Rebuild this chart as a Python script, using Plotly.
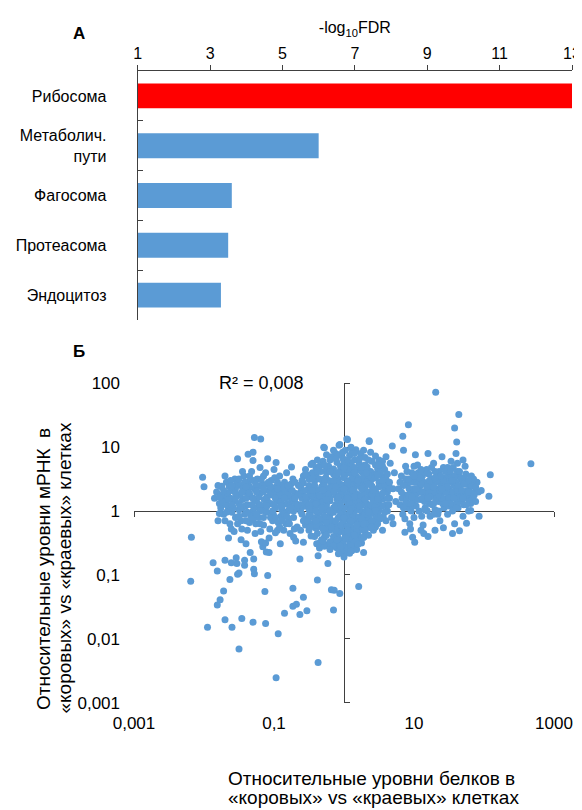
import plotly.graph_objects as go

# browser window 582x810; the page body has an 8px margin, so the figure is
# sized to end exactly at the window edges
PAGE_OFF = 8
W, H = 582 - PAGE_OFF, 810 - PAGE_OFF

# ---------------- Panel A data ----------------
pathways = ["Рибосома", "Метаболич.<br>пути", "Фагосома", "Протеасома", "Эндоцитоз"]
neg_log10_fdr = [13.0, 6.0, 3.6, 3.5, 3.3]
bar_colors = ["#FF0000", "#5B9BD5", "#5B9BD5", "#5B9BD5", "#5B9BD5"]
fdr_ticks = [1, 3, 5, 7, 9, 11, 13]

# ---------------- Panel B data (log10 of ratios: protein, mRNA) ----------------
center_cluster = [
    (0.05,1.12),(-0.07,1.03),(-0.28,0.99),(0.36,1.09),(0.17,0.96),(0.12,0.93),(0.02,0.95),(-0.12,0.9),(0.24,0.9),
    (0.08,0.87),(-0.18,0.85),(0.3,0.84),(-0.02,0.83),(0.15,0.8),(-0.3,0.78),(0.4,0.78),(0.22,0.74),(-0.1,0.76),
    (0.05,0.72),(-0.22,0.7),(0.33,0.69),(-0.4,0.68),(0.48,0.66),(0.12,0.66),(-0.05,0.64),(-0.33,0.62),(0.26,0.61),
    (0.42,0.58),(-0.15,0.58),(0.02,0.57),(-0.5,0.56),(0.55,0.54),(0.18,0.54),(-0.26,0.52),(0.35,0.5),(-0.08,0.5),
    (0.08,0.48),(-0.42,0.47),(0.5,0.45),(-0.58,0.44),(0.25,0.44),(-0.18,0.43),(0.02,0.41),(0.4,0.39),(-0.32,0.38),
    (0.15,0.37),(-0.5,0.36),(-0.08,0.35),(0.58,0.35),(0.3,0.33),(-0.25,0.31),(0.08,0.3),(-0.6,0.29),(0.46,0.28),
    (-0.4,0.27),(0.2,0.26),(-0.12,0.25),(0.0,0.22),(0.36,0.22),(-0.52,0.21),(-0.3,0.2),(0.55,0.19),(0.12,0.18),
    (-0.2,0.16),(0.26,0.15),(-0.45,0.14),(-0.05,0.13),(0.44,0.12),(0.6,0.1),(-0.35,0.09),(0.06,0.08),(-0.58,0.07),
    (0.18,0.06),(-0.15,0.05),(0.33,0.04),(0.5,0.02),(-0.28,0.01),(-0.02,0.0),(-0.48,-0.02),(0.1,-0.03),(0.4,-0.04),
    (-0.2,-0.05),(0.25,-0.07),(-0.38,-0.08),(0.56,-0.09),(-0.08,-0.1),(0.05,-0.12),(-0.55,-0.12),(0.32,-0.13),
    (-0.28,-0.15),(0.15,-0.16),(0.45,-0.18),(-0.15,-0.19),(-0.45,-0.2),(0.0,-0.21),(0.25,-0.23),(-0.32,-0.25),
    (0.38,-0.26),(-0.05,-0.27),(0.1,-0.29),(-0.2,-0.3),(-0.5,-0.3),(0.3,-0.32),(-0.38,-0.35),(0.2,-0.36),(-0.1,-0.37),
    (0.02,-0.39),(-0.28,-0.41),(0.14,-0.43),(-0.15,-0.45),(0.28,-0.41),(-0.05,-0.48),(0.08,-0.5),(-0.22,-0.52),
    (0.0,-0.55),(0.15,-0.56),(-0.1,-0.58),(0.0,-0.63),(0.11,-0.62),(0.28,-0.65),(-0.35,-0.58),(0.0,-0.68),
    (0.1,0.75),(-0.05,0.7),(0.3,0.72),(-0.15,0.66),(0.2,0.64),(0.38,0.62),(-0.25,0.6),(0.08,0.6),(-0.4,0.55),
    (0.28,0.55),(0.45,0.52),(-0.12,0.54),(0.0,0.52),(-0.3,0.46),(0.15,0.46),(0.32,0.46),(-0.5,0.4),(-0.05,0.42),
    (0.22,0.4),(0.5,0.38),(-0.2,0.36),(0.05,0.36),(-0.38,0.33),(0.35,0.3),(-0.02,0.3),(0.15,0.3),(-0.3,0.26),
    (0.28,0.27),(0.45,0.24),(-0.45,0.24),(0.08,0.22),(-0.2,0.21),(0.2,0.2),(-0.1,0.19),(0.42,0.17),(-0.38,0.18),
    (0.03,0.16),(0.32,0.12),(-0.25,0.11),(0.12,0.12),(-0.55,0.14),(-0.12,0.1),(0.25,0.09),(0.52,0.07),(-0.42,0.05),
    (0.0,0.05),(0.38,0.03),(-0.08,0.02),(0.15,0.0),(-0.35,-0.02),(0.28,-0.01),(-0.15,-0.02),(0.48,-0.04),(0.05,-0.06),
    (-0.28,-0.08),(0.18,-0.09),(-0.45,-0.1),(0.35,-0.1),(-0.02,-0.15),(0.22,-0.17),(-0.35,-0.18),(0.08,-0.2),
    (-0.22,-0.22),(0.35,-0.2),(-0.1,-0.24),(0.15,-0.26),(-0.4,-0.27),(0.0,-0.33),(0.22,-0.3),(-0.28,-0.33),
    (-0.15,-0.4),(0.08,-0.42),(0.0,-0.45),(-0.08,-0.33),(0.12,-0.35),(0.25,-0.5),(0.0,-0.72),(0.02,-0.6),(-0.02,-0.52),
    (0.6,0.5),(0.65,0.2),(0.7,0.35),(0.62,0.0),(0.68,-0.1),(0.72,0.6),(0.66,0.75),(0.6,0.85),(0.74,0.15),(0.64,0.4),
    (0.7,-0.2),(0.55,0.7),(0.5,0.8),(-0.62,0.3),(-0.6,-0.05),(-0.58,0.55),(-0.55,0.15),(-0.52,-0.2),(-0.55,0.65),
    (-0.62,-0.3),
    (-0.45,0.6),(-0.35,0.5),(-0.22,0.48),(-0.1,0.46),(0.12,0.52),(0.25,0.5),(0.4,0.5),(0.52,0.6),(0.58,0.42),(0.45,0.34),
    (0.38,0.42),(0.3,0.38),(0.1,0.4),(-0.12,0.38),(-0.28,0.4),(-0.42,0.4),(-0.55,0.32),(-0.48,0.28),(-0.35,0.24),
    (-0.22,0.27),(-0.05,0.26),(0.05,0.26),(0.24,0.22),(0.4,0.26),(0.52,0.24),(0.5,0.13),(0.38,0.1),(0.2,0.14),(0.08,0.12),
    (-0.08,0.17),(-0.3,0.15),(-0.5,0.1),(-0.4,0.0),(-0.25,0.06),(-0.12,0.06),(0.1,0.04),(0.22,0.02),(0.44,0.06),
    (0.58,-0.02),(0.45,-0.12),(0.3,-0.05),(0.12,-0.1),(-0.05,-0.05),(-0.2,-0.12),(-0.35,-0.12),(-0.5,-0.06),(-0.55,-0.22),
    (-0.4,-0.22),(-0.25,-0.25),(-0.12,-0.3),(0.05,-0.25),(0.18,-0.22),(0.3,-0.28),(0.42,-0.3),(0.2,-0.45),(-0.32,-0.45),
    (-0.2,-0.48),(-0.08,-0.42),(0.05,-0.36),(0.14,-0.5),(-0.12,-0.52),(0.05,-0.58),(-0.05,-0.62),(0.18,-0.6),(-0.02,0.6),
    (0.15,0.68),(-0.2,0.8),(0.0,0.78),(0.22,0.82),(-0.08,0.88),(0.32,0.65),(-0.35,0.7),(0.45,0.72),(0.28,0.95),(-0.15,0.95),
    (0.1,1.0),(0.45,0.86),(0.55,0.78),(-0.45,0.75),(-0.5,0.5),(-0.6,0.2),(-0.62,0.0),(-0.58,-0.15),(0.62,0.3),(0.64,0.1),
    (0.6,-0.15),(0.55,-0.3),(0.48,-0.2),(0.35,0.56),(0.05,0.65),(-0.25,0.66),(0.58,0.65),
    (-0.25,0.88),(0.38,0.92),(0.15,0.9),(-0.02,0.92),
    (-0.38,0.8),(-0.12,0.82),(0.05,0.8),(0.35,0.8),(0.5,0.72),(0.25,0.68),(-0.28,0.72),(0.0,0.68),
    (-0.55,0.58),(-0.38,0.62),(-0.2,0.62),(-0.08,0.6),(0.15,0.6),(0.32,0.6),(0.48,0.56),(0.62,0.58),
    (-0.6,0.48),(-0.45,0.5),(-0.28,0.5),(-0.15,0.48),(0.05,0.45),(0.2,0.48),(0.35,0.42),(0.55,0.48),(0.65,0.45),
    (-0.62,0.38),(-0.45,0.32),(-0.3,0.33),(-0.15,0.3),(0.0,0.35),(0.12,0.33),(0.25,0.35),(0.42,0.32),(0.55,0.28),(0.65,0.35),
    (-0.55,0.22),(-0.4,0.12),(-0.25,0.18),(-0.08,0.22),(0.05,0.2),(0.15,0.22),(0.3,0.18),(0.48,0.18),(0.62,0.2),
    (-0.62,0.1),(-0.5,0.03),(-0.32,0.05),(-0.2,0.0),(-0.05,0.08),(0.08,0.0),(0.22,0.08),(0.35,-0.02),(0.45,0.0),(0.55,0.08),
    (-0.52,-0.15),(-0.4,-0.15),(-0.25,-0.18),(-0.12,-0.15),(0.0,-0.1),(0.1,-0.15),(0.25,-0.12),(0.4,-0.15),(0.52,-0.12),
    (-0.48,-0.25),(-0.3,-0.28),(-0.18,-0.25),(-0.05,-0.22),(0.05,-0.3),(0.18,-0.32),(0.28,-0.2),(0.45,-0.25),
    (-0.42,-0.4),(-0.25,-0.38),(-0.1,-0.45),(0.02,-0.42),(0.15,-0.38),(0.25,-0.42),(0.35,-0.38),(-0.35,-0.5),
    (-0.28,-0.55),(-0.15,-0.55),(-0.05,-0.55),(0.1,-0.55),(0.2,-0.52),(-0.2,-0.6),(0.08,-0.66),(-0.08,-0.67),
]

left_cluster = [
    (-1.82,0.3),(-1.78,0.12),(-1.75,0.38),(-1.72,-0.05),(-1.7,0.22),(-1.68,0.45),(-1.65,0.05),(-1.63,-0.2),(-1.6,0.32),
    (-1.58,0.15),(-1.56,0.5),(-1.55,-0.1),(-1.52,0.25),(-1.5,0.02),(-1.48,0.4),(-1.46,-0.28),(-1.45,0.18),(-1.43,0.55),
    (-1.42,-0.05),(-1.4,0.3),(-1.38,0.1),(-1.37,0.45),(-1.35,-0.18),(-1.33,0.22),(-1.32,0.62),(-1.3,0.0),(-1.28,0.35),
    (-1.27,-0.35),(-1.25,0.15),(-1.24,0.5),(-1.22,-0.1),(-1.2,0.28),(-1.18,0.05),(-1.17,0.42),(-1.15,-0.22),(-1.14,0.18),
    (-1.12,0.6),(-1.1,-0.02),(-1.08,0.32),(-1.07,-0.42),(-1.05,0.12),(-1.04,0.48),(-1.02,-0.15),(-1.0,0.25),(-0.98,0.05),
    (-0.97,0.38),(-0.95,-0.3),(-0.93,0.18),(-0.92,0.55),(-0.9,-0.08),(-0.88,0.3),(-0.87,0.1),(-0.85,0.45),(-0.83,-0.2),
    (-0.82,0.22),(-0.8,0.0),(-0.78,0.35),(-0.77,-0.35),(-0.75,0.15),(-0.73,0.5),(-0.72,-0.1),(-0.7,0.28),(-0.68,0.05),
    (-0.67,-0.25),(-0.65,0.4),
    (-1.85,0.2),(-1.8,-0.15),(-1.76,0.05),(-1.7,0.55),(-1.66,0.28),(-1.6,-0.02),(-1.57,-0.32),(-1.53,0.42),(-1.5,0.12),
    (-1.47,-0.15),(-1.44,0.35),(-1.41,0.08),(-1.38,-0.3),(-1.36,0.28),(-1.33,-0.08),(-1.3,0.48),(-1.28,0.18),(-1.26,-0.2),
    (-1.23,0.38),(-1.21,0.08),(-1.19,-0.32),(-1.16,0.3),(-1.13,0.0),(-1.11,0.42),(-1.09,0.15),(-1.06,-0.28),(-1.03,0.35),
    (-1.01,-0.05),(-0.99,0.52),(-0.96,0.15),(-0.94,-0.18),(-0.91,0.4),(-0.89,0.02),(-0.86,-0.3),(-0.84,0.28),(-0.81,0.12),
    (-0.79,-0.12),(-0.76,0.42),(-0.74,0.22),(-0.71,-0.28),(-0.69,0.12),(-0.66,0.25),
    (-1.78,-0.04),(-1.73,0.14),(-1.75,0.39),(-1.62,0.48),
    (-1.65,-0.42),(-1.61,-0.28),(-1.47,-0.45),(-1.40,-0.51),(-1.16,-0.56),(-1.11,-0.64),(-1.07,-0.65),(-1.18,-0.48),
    (-1.12,-0.5),(-0.98,-0.34),(-0.91,-0.51),(-0.72,-0.41),(-0.69,-0.47),(-0.58,-0.49),(-0.47,-0.39),(-0.39,-0.51),
    (-0.3,-0.47),
    (-1.75,0.25),(-1.68,0.1),(-1.62,0.2),(-1.55,0.35),(-1.48,0.25),(-1.42,0.45),(-1.35,0.38),(-1.28,0.05),(-1.22,0.22),
    (-1.15,0.55),(-1.1,0.22),(-1.05,0.38),(-0.98,0.3),(-0.92,0.25),(-0.86,0.36),(-0.8,0.25),(-0.74,0.32),(-0.7,0.45),
    (-0.72,0.0),(-0.78,0.08),(-0.85,-0.05),(-0.92,-0.25),(-1.0,0.1),(-1.05,-0.1),(-1.12,0.1),(-1.2,-0.2),(-1.25,0.3),
    (-1.32,0.1),(-1.4,0.2),(-1.45,0.05),(-1.52,-0.2),(-1.58,0.05),(-1.64,0.38),(-1.7,-0.15),(-1.45,0.62),(-1.2,0.68),
    (-1.0,0.65),(-0.82,0.6),(-1.35,0.55),(-0.95,0.45),(-1.18,0.5),
    (-1.8,0.4),(-1.78,0.22),(-1.72,0.32),(-1.65,0.18),(-1.6,0.4),(-1.55,0.2),(-1.5,0.5),(-1.46,0.3),(-1.4,0.38),
    (-1.35,0.28),(-1.3,0.2),(-1.26,0.42),(-1.2,0.1),(-1.15,0.35),(-1.08,0.45),(-1.05,0.25),(-0.98,0.2),(-0.95,0.35),
    (-0.9,0.15),(-0.85,0.2),(-0.8,0.4),(-0.76,0.05),(-0.7,0.2),(-0.66,0.1),(-1.6,0.1),(-1.5,-0.08),(-1.4,-0.15),
    (-1.3,-0.12),(-1.2,0.0),(-1.1,0.08),(-0.98,-0.1),(-0.88,-0.15),(-0.78,-0.2),(-1.68,-0.02),(-1.25,-0.05),(-1.15,-0.1),
    (-1.02,0.0),(-0.9,0.08),(-0.82,-0.08),(-1.38,-0.02),(-1.48,0.08),(-1.55,0.28),
]

right_cluster = [
    (0.78,0.35),(0.8,0.1),(0.82,0.55),(0.84,-0.05),(0.86,0.25),(0.88,0.7),(0.9,0.42),(0.92,0.05),(0.94,-0.2),(0.95,0.3),
    (0.97,0.6),(0.99,0.15),(1.0,-0.1),(1.02,0.45),(1.04,0.28),(1.05,0.72),(1.07,0.0),(1.08,0.38),(1.1,0.18),(1.12,0.55),
    (1.13,-0.22),(1.15,0.3),(1.16,0.05),(1.18,0.65),(1.2,0.42),(1.22,0.12),(1.23,-0.08),(1.25,0.5),(1.27,0.25),(1.28,0.75),
    (1.3,0.02),(1.32,0.35),(1.33,0.58),(1.35,0.15),(1.37,-0.15),(1.38,0.45),(1.4,0.28),(1.42,0.68),(1.43,0.05),(1.45,0.38),
    (1.47,0.2),(1.48,-0.05),(1.5,0.55),(1.52,0.3),(1.53,0.78),(1.55,0.1),(1.57,0.42),(1.58,-0.2),(1.6,0.25),(1.62,0.62),
    (1.63,0.05),(1.65,0.35),(1.67,0.5),(1.68,0.15),(1.7,-0.08),(1.72,0.3),(1.73,0.7),(1.75,0.45),(1.77,0.2),(1.78,0.0),
    (1.8,0.38),(1.82,0.55),(1.83,0.25),(1.85,0.4),(1.87,0.3),(1.9,0.45),
    (0.8,0.45),(0.83,0.2),(0.87,-0.12),(0.9,0.62),(0.93,0.35),(0.96,0.0),(0.98,0.5),(1.01,0.25),(1.03,0.08),(1.06,0.6),
    (1.09,0.3),(1.11,-0.08),(1.14,0.45),(1.17,0.22),(1.19,0.0),(1.21,0.58),(1.24,0.35),(1.26,0.1),(1.29,0.48),(1.31,0.2),
    (1.34,-0.05),(1.36,0.62),(1.39,0.38),(1.41,0.12),(1.44,0.52),(1.46,0.3),(1.49,0.08),(1.51,0.45),(1.54,0.22),(1.56,0.68),
    (1.59,0.38),(1.61,0.12),(1.64,0.55),(1.66,0.25),(1.69,0.42),(1.71,0.1),(1.74,0.58),(1.76,0.32),(1.79,0.15),(1.81,0.48),
    (1.84,0.2),
    (0.87,-0.33),(1.01,-0.49),(1.14,-0.35),(0.98,-0.41),(1.42,-0.26),(1.65,-0.31),(1.75,-0.19),(1.81,0.12),(1.83,0.18),
    (1.81,0.01),(1.93,-0.08),(1.96,0.32),(2.07,0.23),(2.09,0.57),(0.85,0.95),(1.02,0.88),(1.2,0.9),(1.4,0.85),(1.6,0.9),
    (1.7,0.8),(1.3,-0.3),(1.55,-0.35),(1.2,-0.4),(0.95,-0.28),(1.1,-0.3),
    (0.85,0.4),(0.9,0.2),(0.95,0.45),(1.0,0.35),(1.05,0.18),(1.1,0.42),(1.15,0.15),(1.2,0.3),(1.25,0.4),(1.3,0.3),
    (1.35,0.45),(1.4,0.2),(1.45,0.45),(1.5,0.35),(1.55,0.3),(1.6,0.45),(1.65,0.2),(1.7,0.3),(1.75,0.25),(1.8,0.3),
    (1.85,0.5),(1.88,0.15),(1.15,0.6),(1.3,0.62),(1.45,0.62),(1.62,0.75),(1.35,0.25),(1.22,0.48),(1.5,0.2),(1.58,0.55),
    (1.05,0.5),(0.92,0.25),(1.72,0.52),(1.42,0.38),(1.28,0.12),(1.12,0.3),(0.98,0.08),(1.62,0.32),(1.48,0.68),(1.35,0.0),
    (1.55,0.0),(1.75,0.1),(1.0,0.7),(1.25,0.68),(0.88,0.5),(1.92,0.3),
    (0.82,0.3),(0.88,0.12),(0.92,0.5),(0.97,0.22),(1.03,0.35),(1.08,0.52),(1.12,0.2),(1.18,0.38),(1.23,0.22),(1.28,0.38),
    (1.33,0.48),(1.37,0.32),(1.42,0.48),(1.47,0.38),(1.52,0.12),(1.57,0.2),(1.63,0.4),(1.68,0.32),(1.72,0.42),(1.78,0.3),
    (1.82,0.4),(1.86,0.25),(1.15,0.02),(1.28,-0.05),(1.45,0.12),(1.6,0.05),(1.7,0.2),(1.38,0.55),(1.52,0.62),(1.1,0.65),
    (0.95,0.12),(1.2,0.2),(1.4,0.35),(1.55,0.48),(1.65,0.62),(1.3,0.52),(1.0,0.55),(0.85,0.05),(1.78,0.48),(1.88,0.38),
]

sparse_points = [
    (1.31,1.86),(1.64,1.51),(1.58,1.30),(1.61,1.08),(0.92,1.35),(0.84,1.17),(0.69,1.02),(0.36,1.10),(0.04,1.13),
    (-0.06,1.04),(-0.29,1.00),(2.67,0.74),
    (-1.28,1.15),(-1.19,1.13),(-1.37,0.89),(-1.30,0.92),(-1.52,0.82),(-1.30,0.79),(-1.09,0.82),(-0.97,0.76),
    (-0.75,0.69),(-0.47,0.73),(-2.02,0.53),(-2.00,0.38),
    (-1.34,-0.65),(-1.29,-0.75),(-1.29,-0.91),(-1.28,-0.98),(-1.42,-0.85),(-1.53,-0.82),(-1.54,-0.73),(-1.61,-0.81),
    (-1.70,-0.77),(-1.87,-0.81),(-1.81,-0.94),(-1.52,-0.99),(-1.50,-0.97),(-1.63,-1.07),(-1.72,-1.25),(-1.77,-1.39),
    (-1.81,-1.47),(-1.09,-1.01),(-1.13,-1.26),(-0.63,-0.75),(-0.37,-0.70),(-1.42,-0.77),
    (-2.18,-0.41),(-2.19,-1.10),(-1.95,-1.82),(-1.50,-2.16),(-0.97,-2.61),(-0.37,-2.37),(-0.94,-1.92),(-1.12,-1.76),
    (-1.30,-1.74),(-1.46,-1.68),(-1.60,-1.82),(-1.70,-1.70),(-0.73,-1.21),(-0.58,-1.35),(-0.73,-1.49),(-0.68,-1.46),
    (-0.85,-1.60),(-0.63,-1.62),(-0.53,-1.56),(-0.38,-1.08),(-0.18,-1.23),(-0.14,-1.24),(-0.06,-1.29),(-0.15,-1.55),
    (0.21,-1.18),(-0.23,-0.82),(0.10,-0.62),(0.28,-0.41),(0.39,-0.25),
]

r2_text = "R² = 0,008"
x_title_lines = ["Относительные уровни белков в", "«коровых» vs «краевых» клетках"]
y_title_lines = ["Относительные уровни мРНК  в", "«коровых» vs «краевых» клетках"]
x_tick_vals = [0.001, 0.1, 10, 1000]
x_tick_text = ["0,001", "0,1", "10", "1000"]
y_tick_vals = [0.001, 0.01, 0.1, 1, 10, 100]
y_tick_text = ["0,001", "0,01", "0,1", "1", "10", "100"]

all_pts = center_cluster + left_cluster + right_cluster + sparse_points
protein_ratio = [10 ** p[0] for p in all_pts]
mrna_ratio = [10 ** p[1] for p in all_pts]

# ---------------- layout geometry (window pixels -> paper fractions) ----------------
FONT = "Liberation Sans, Arial, sans-serif"
AXC = "#404040"


def px_x(v):
    return (v - PAGE_OFF) / W


def px_y(v):
    return 1 - (v - PAGE_OFF) / H


a_xdom = [px_x(137.7), px_x(572)]
a_ydom = [px_y(320), px_y(71)]
b_xdom = [px_x(134), px_x(554)]
b_ydom = [px_y(702.7), px_y(383.3)]
b_xrange = [-3, 3]
b_yrange = [-3, 2]
cross_x = b_xdom[0] + (0 - b_xrange[0]) / (b_xrange[1] - b_xrange[0]) * (b_xdom[1] - b_xdom[0])
cross_y = b_ydom[0] + (0 - b_yrange[0]) / (b_yrange[1] - b_yrange[0]) * (b_ydom[1] - b_ydom[0])

fig = go.Figure()

fig.add_trace(go.Bar(
    y=pathways, x=neg_log10_fdr, orientation="h",
    marker=dict(color=bar_colors, line=dict(width=0)),
    xaxis="x", yaxis="y", showlegend=False,
))

fig.add_trace(go.Scatter(
    x=protein_ratio, y=mrna_ratio, mode="markers",
    marker=dict(color="#5B9BD5", size=7, line=dict(width=0)),
    xaxis="x2", yaxis="y2", showlegend=False,
))

# empty trace for the crossing axes overlay
fig.add_trace(go.Scatter(x=[], y=[], xaxis="x3", yaxis="y3", showlegend=False, hoverinfo="skip"))

common_off = dict(showgrid=False, zeroline=False, automargin=False)

annotations = [
    dict(text="<b>A</b>", x=px_x(79), y=px_y(33), font=dict(size=17), xanchor="center", yanchor="middle"),
    dict(text="<b>Б</b>", x=px_x(79), y=px_y(352), font=dict(size=17), xanchor="center", yanchor="middle"),
    dict(text=r2_text, x=px_x(261), y=px_y(383), font=dict(size=18), xanchor="center", yanchor="middle"),
    dict(text=y_title_lines[0], x=px_x(43), y=px_y(712), textangle=-90, font=dict(size=19),
         xanchor="center", yanchor="bottom"),
    dict(text=y_title_lines[1], x=px_x(64), y=px_y(716), textangle=-90, font=dict(size=19),
         xanchor="center", yanchor="bottom"),
    dict(text=x_title_lines[0], x=px_x(226), y=px_y(778), font=dict(size=19), xanchor="left", yanchor="middle"),
    dict(text=x_title_lines[1], x=px_x(226), y=px_y(797), font=dict(size=19), xanchor="left", yanchor="middle"),
]
for a in annotations:
    a.update(xref="paper", yref="paper", showarrow=False)

fig.update_layout(
    template="none",
    width=W, height=H,
    margin=dict(l=0, r=0, t=0, b=0, pad=0, autoexpand=False),
    paper_bgcolor="white", plot_bgcolor="rgba(0,0,0,0)",
    font=dict(family=FONT, size=16, color="#000000"),
    bargap=0.5,
    xaxis=dict(
        domain=a_xdom, anchor="y", side="top", range=[1, 13],
        tickvals=fdr_ticks, ticks="outside", ticklen=5, tickcolor=AXC,
        showline=True, linecolor=AXC, linewidth=1, **common_off,
        tickfont=dict(size=16),
        title=dict(text="-log<sub>10</sub>FDR", font=dict(size=16), standoff=6),
    ),
    yaxis=dict(
        domain=a_ydom, anchor="x", type="category",
        categoryorder="array", categoryarray=pathways, autorange="reversed",
        ticks="inside", tickson="boundaries", ticklen=5, tickcolor=AXC,
        showline=True, linecolor=AXC, linewidth=1, **common_off,
        tickfont=dict(size=16), ticklabelstandoff=27,
    ),
    xaxis2=dict(
        domain=b_xdom, anchor="y2", type="log", range=b_xrange,
        tickvals=x_tick_vals, ticktext=x_tick_text, ticks="",
        showline=False, **common_off, tickfont=dict(size=17),
        ticklabelstandoff=8,
    ),
    yaxis2=dict(
        domain=b_ydom, anchor="x2", type="log", range=b_yrange,
        tickvals=y_tick_vals, ticktext=y_tick_text, ticks="",
        showline=False, **common_off, tickfont=dict(size=17),
        ticklabelstandoff=13,
    ),
    xaxis3=dict(
        domain=b_xdom, overlaying="x2", anchor="free", position=cross_y, type="log",
        range=b_xrange, tickvals=x_tick_vals, ticks="outside", ticklen=5, tickcolor=AXC,
        showticklabels=False, showline=True, linecolor=AXC, linewidth=1,
        **common_off, layer="below traces",
    ),
    yaxis3=dict(
        domain=b_ydom, overlaying="y2", anchor="free", position=cross_x, side="right",
        type="log", range=b_yrange, tickvals=y_tick_vals, ticks="outside", ticklen=5,
        tickcolor=AXC, showticklabels=False, showline=True, linecolor=AXC, linewidth=1,
        **common_off, layer="below traces",
    ),
    annotations=annotations,
)

fig.write_html("out.html")
